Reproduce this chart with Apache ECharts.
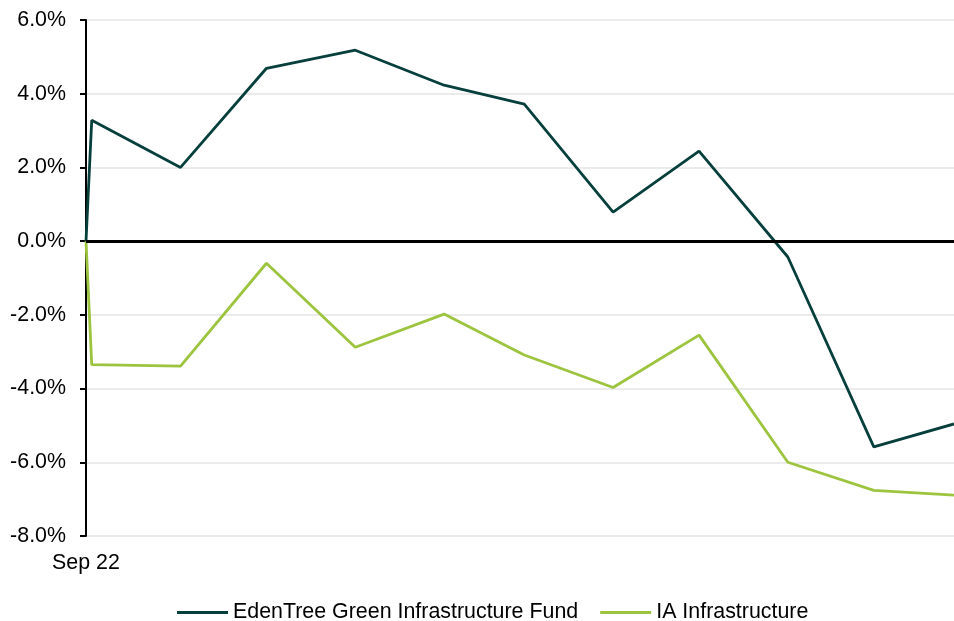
<!DOCTYPE html>
<html lang="en">
  <head>
    <meta charset="UTF-8" />
    <title>EdenTree Green Infrastructure Fund vs IA Infrastructure</title>
    <script src="https://cdn.jsdelivr.net/npm/echarts@6/dist/echarts.min.js"></script>
    <style>
      body {
        margin: 0;
      }
      #main {
        width: 954px;
        height: 621px;
      }
    </style>
  </head>
  <body>
    <div id="main"></div>
    <script>
      // month-end dates (start of period first)
      let dates = [
        "2022-09-28", "2022-09-30", "2022-10-31", "2022-11-30", "2022-12-31", "2023-01-31",
        "2023-02-28", "2023-03-31", "2023-04-30", "2023-05-31", "2023-06-30", "2023-07-28",
      ];
      let fundName = "EdenTree Green Infrastructure Fund";
      let sectorName = "IA Infrastructure";
      // cumulative performance, %
      let fundValues = [0, 3.28, 2.0, 4.69, 5.18, 4.23, 3.72, 0.79, 2.44, -0.43, -5.58, -4.96];
      let sectorValues = [0, -3.35, -3.39, -0.6, -2.88, -1.98, -3.09, -3.97, -2.55, -6.0, -6.76, -6.89];
      let firstLabel = "Sep 22";

      let fontFamily = "'Liberation Sans', Arial, sans-serif";
      let minTime = new Date(dates[0]).getTime();

      function pairs(values) {
        return dates.map((d, i) => [d, values[i]]);
      }

      var myChart = echarts.init(document.getElementById("main"));
      var option = {
        animation: false,
        textStyle: { fontFamily: fontFamily },
        grid: { left: 86, right: 0, top: 20, bottom: 85 },
        legend: {
          data: [fundName, sectorName],
          top: 597,
          left: 172,
          icon: "rect",
          itemWidth: 51,
          itemHeight: 3,
          itemGap: 22,
          textStyle: { fontSize: 21.4, color: "#000", fontFamily: fontFamily },
        },
        xAxis: {
          type: "time",
          min: dates[0],
          max: dates[dates.length - 1],
          axisLine: { show: false },
          axisTick: { show: false },
          splitLine: { show: false },
          axisLabel: {
            showMinLabel: true,
            showMaxLabel: false,
            margin: 17,
            fontSize: 21.4,
            color: "#000",
            formatter: function (v) {
              return v === minTime ? firstLabel : "";
            },
          },
        },
        yAxis: {
          type: "value",
          min: -8,
          max: 6,
          interval: 2,
          axisLine: { show: true, lineStyle: { color: "#000", width: 2 } },
          axisTick: { show: true, length: 6, lineStyle: { color: "#000", width: 2 } },
          splitLine: { lineStyle: { color: "#ebebeb", width: 2 } },
          axisLabel: {
            margin: 20,
            fontSize: 21.4,
            color: "#000",
            formatter: function (v) {
              return v.toFixed(1) + "%";
            },
          },
        },
        series: [
          {
            name: fundName,
            type: "line",
            data: pairs(fundValues),
            symbol: "none",
            color: "#063f3b",
            lineStyle: { width: 2.8, color: "#063f3b" },
            markLine: {
              silent: true,
              symbol: "none",
              label: { show: false },
              lineStyle: { color: "#000", width: 2.8, type: "solid" },
              data: [{ yAxis: 0 }],
            },
          },
          {
            name: sectorName,
            type: "line",
            data: pairs(sectorValues),
            symbol: "none",
            color: "#9cc43f",
            lineStyle: { width: 2.8, color: "#9cc43f" },
          },
        ],
      };
      myChart.setOption(option);
    </script>
  </body>
</html>
